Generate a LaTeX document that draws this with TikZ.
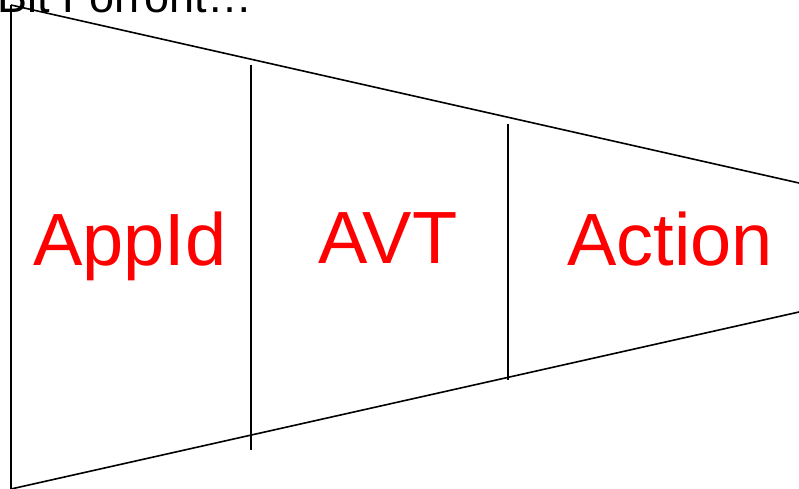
\documentclass[tikz,border=0pt]{standalone}
\usepackage{fontspec}
\setmainfont{Liberation Sans}
\usetikzlibrary{positioning}
\tikzset{
  part/.style  = {text=red, font=\fontsize{74}{80}\selectfont, inner sep=0pt, anchor=base},
  edge/.style  = {draw, line width=1.6pt},
  title/.style = {font=\fontsize{45}{50}\selectfont, inner sep=0pt, anchor=base west}
}
\begin{document}
\begin{tikzpicture}[x=1pt, y=-1pt]
  \useasboundingbox (0,0) rectangle (799,489);
  \clip (0,0) rectangle (799,489);
  % funnel outline
  \coordinate (tl) at (11,5);
  \coordinate (bl) at (11,489);
  \coordinate (tr) at (799,183);
  \coordinate (br) at (799,312);
  \draw[edge] (tl) -- (bl);
  \draw[edge] (tl) -- (tr);
  \draw[edge] (bl) -- (br);
  % dividers
  \coordinate (d1t) at (251,65);
  \coordinate (d1b) at (251,450);
  \coordinate (d2t) at (508,124);
  \coordinate (d2b) at (508,380);
  \draw[edge] (d1t) -- (d1b);
  \draw[edge] (d2t) -- (d2b);
  % labels
  \node[part] (appid)  at (130,265) {AppId};
  \node[part] (avt)    at (388,263) {AVT};
  \node[part] (action) at (670,265) {Action};
  \node[title] (head) at (-3,13) {Bit Forront…};
\end{tikzpicture}
\end{document}
